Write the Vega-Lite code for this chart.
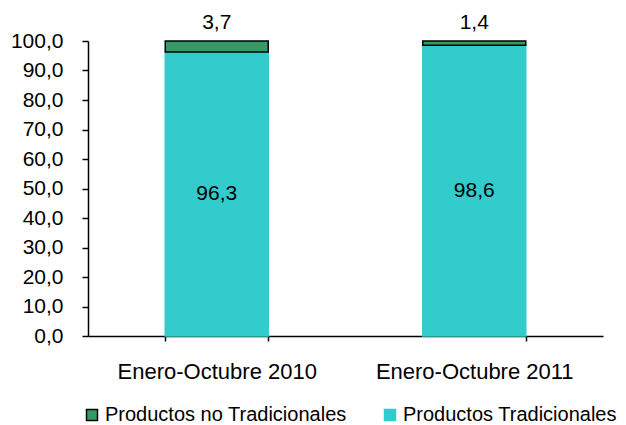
{
  "$schema": "https://vega.github.io/schema/vega-lite/v6.json",
  "width": 515,
  "height": 295,
  "autosize": "none",
  "padding": {"left": 88, "top": 41, "right": 23, "bottom": 89},
  "background": "white",
  "config": {
    "view": {"stroke": null},
    "font": "Liberation Sans",
    "locale": {"number": {"decimal": ",", "thousands": ".", "grouping": [3], "currency": ["", " €"]}},
    "axis": {"grid": false, "domainColor": "#000000", "tickColor": "#000000", "labelColor": "#000000", "domainWidth": 1.5, "tickWidth": 1.5, "labelFontSize": 21, "tickSize": 6, "title": null, "labelFont": "Liberation Sans", "labelLimit": 400},
    "legend": {"labelFontSize": 20, "labelLimit": 400, "labelFont": "Liberation Sans"}
  },
  "data": {
    "values": [
      {"periodo": "Enero-Octubre 2010", "tipo": "Productos Tradicionales", "valor": 96.3, "orden": 1},
      {"periodo": "Enero-Octubre 2010", "tipo": "Productos no Tradicionales", "valor": 3.7, "orden": 2},
      {"periodo": "Enero-Octubre 2011", "tipo": "Productos Tradicionales", "valor": 98.6, "orden": 1},
      {"periodo": "Enero-Octubre 2011", "tipo": "Productos no Tradicionales", "valor": 1.4, "orden": 2}
    ]
  },
  "transform": [
    {"stack": "valor", "groupby": ["periodo"], "sort": [{"field": "orden", "order": "ascending"}], "as": ["v0", "v1"]}
  ],
  "encoding": {
    "x": {
      "field": "periodo", "type": "nominal", "sort": null,
      "scale": {"paddingInner": 0.6, "paddingOuter": 0.3},
      "axis": {"labelAngle": 0, "tickBand": "extent", "tickSize": 5, "labelPadding": 20, "labelFontSize": 22, "labelLimit": 400}
    }
  },
  "layer": [
    {
      "mark": {"type": "bar", "strokeWidth": 1.5},
      "encoding": {
        "y": {"field": "v0", "type": "quantitative", "scale": {"domain": [0, 100]},
              "axis": {"values": [0, 10, 20, 30, 40, 50, 60, 70, 80, 90, 100], "format": ".1f", "labelPadding": 19, "labelFontSize": 21, "labelOverlap": false}},
        "y2": {"field": "v1"},
        "color": {
          "field": "tipo", "type": "nominal",
          "scale": {"domain": ["Productos no Tradicionales", "Productos Tradicionales"], "range": ["#339966", "#33CCCC"]},
          "legend": {"orient": "none", "legendX": -6, "legendY": 364, "direction": "horizontal", "columns": 2, "title": null, "symbolType": "square", "symbolSize": 121, "labelFontSize": 20, "labelLimit": 400, "labelOffset": 3, "columnPadding": 33, "labelColor": "#000000", "symbolStrokeWidth": 1.5}
        },
        "stroke": {
          "field": "tipo", "type": "nominal",
          "scale": {"domain": ["Productos no Tradicionales", "Productos Tradicionales"], "range": ["#000000", "#33CCCC"]},
          "legend": {"orient": "none", "legendX": -6, "legendY": 364, "direction": "horizontal", "columns": 2, "title": null, "symbolType": "square", "symbolSize": 121, "labelFontSize": 20, "labelLimit": 400, "labelOffset": 3, "columnPadding": 33, "labelColor": "#000000", "symbolStrokeWidth": 1.5}
        }
      }
    },
    {
      "transform": [{"filter": "datum.orden == 1"}, {"calculate": "(datum.v0 + datum.v1) / 2", "as": "medio"}],
      "mark": {"type": "text", "fontSize": 21, "color": "#000000"},
      "encoding": {
        "y": {"field": "medio", "type": "quantitative",
              "axis": {"values": [0, 10, 20, 30, 40, 50, 60, 70, 80, 90, 100], "format": ".1f", "labelPadding": 19, "labelFontSize": 21, "labelOverlap": false}},
        "text": {"field": "valor", "type": "quantitative", "format": ".1f"}
      }
    },
    {
      "transform": [{"filter": "datum.orden == 2"}],
      "mark": {"type": "text", "fontSize": 21, "color": "#000000", "baseline": "alphabetic", "dy": -12},
      "encoding": {
        "y": {"field": "v1", "type": "quantitative",
              "axis": {"values": [0, 10, 20, 30, 40, 50, 60, 70, 80, 90, 100], "format": ".1f", "labelPadding": 19, "labelFontSize": 21, "labelOverlap": false}},
        "text": {"field": "valor", "type": "quantitative", "format": ".1f"}
      }
    }
  ]
}
